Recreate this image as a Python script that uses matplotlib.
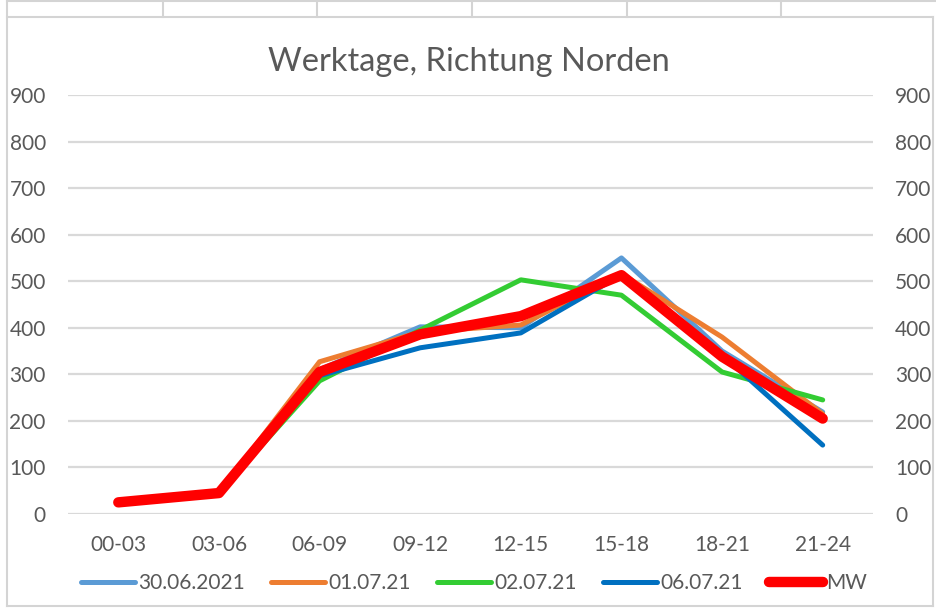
import matplotlib.pyplot as plt
from matplotlib.lines import Line2D

# Zeitfenster (3h) und Fahrzeugzahlen je Tag
zeiten = ["00-03", "03-06", "06-09", "09-12", "12-15", "15-18", "18-21", "21-24"]
tag_300621 = [25, 45, 310, 402, 400, 550, 350, 219]
tag_010721 = [25, 45, 327, 391, 406, 516, 380, 215]
tag_020721 = [25, 45, 286, 395, 503, 470, 305, 245]
tag_060721 = [25, 45, 297, 357, 389, 514, 342, 148]
mittelwert = [25, 45, 305, 386, 425, 513, 338, 205]

namen = ["30.06.2021", "01.07.21", "02.07.21", "06.07.21", "MW"]
farben = ["#5B9BD5", "#ED7D31", "#33CC33", "#0070C0", "#FF0000"]
y_ticks = [0, 100, 200, 300, 400, 500, 600, 700, 800, 900]

grau = "#595959"
plt.rcParams["font.family"] = ["Lato", "DejaVu Sans"]

fig = plt.figure(figsize=(9.36, 6.08), dpi=100)
W, H = 936, 608

# Diagrammbereich wie in Excel
ax = fig.add_axes([68 / W, (H - 514) / H, (873 - 68) / W, (514 - 95) / H])

x = list(range(len(zeiten)))
reihen = [tag_300621, tag_010721, tag_020721, tag_060721, mittelwert]
for werte, name, farbe in zip(reihen, namen, farben):
    lw = 7.5 if name == "MW" else 3.6
    ax.plot(x, werte, color=farbe, lw=lw, label=name,
            solid_capstyle="round", solid_joinstyle="round", zorder=3)

ax.set_xlim(-0.5, len(zeiten) - 0.5)
ax.set_ylim(0, 900)
ax.set_yticks(y_ticks)
ax.set_xticks(x)
ax.set_xticklabels(zeiten)
ax.grid(axis="y", color="#D9D9D9", lw=1.6)
ax.set_axisbelow(True)
for s in ax.spines.values():
    s.set_visible(False)
ax.tick_params(axis="y", length=0, pad=16, labelsize=15, colors=grau,
               labelright=True)
ax.tick_params(axis="x", length=0, pad=15, labelsize=15, colors=grau)

fig.text(469 / W, (H - 62) / H, "Werktage, Richtung Norden", ha="center",
         va="center", fontsize=23.5, color=grau)

ax.legend(loc="center", bbox_to_anchor=(474 / W, (H - 583) / H),
          bbox_transform=fig.transFigure, ncol=5, frameon=False,
          fontsize=15, labelcolor=grau, handlelength=2.6,
          handletextpad=0.15, columnspacing=1.25)

# Rahmen des Diagramms und Tabellenzellen oben
def linie(x0, y0, x1, y1):
    fig.add_artist(Line2D([x0 / W, x1 / W], [(H - y0) / H, (H - y1) / H],
                          color="#D4D4D4", lw=1.5, transform=fig.transFigure))

linie(7, 17, 933, 17)
linie(7, 0, 7, 606)
linie(933, 17, 933, 606)
linie(7, 606, 933, 606)
linie(7, 1, 935, 1)
for xc in [163, 317, 472, 627, 781]:
    linie(xc, 0, xc, 17)

fig.savefig("out.png", dpi=100)
